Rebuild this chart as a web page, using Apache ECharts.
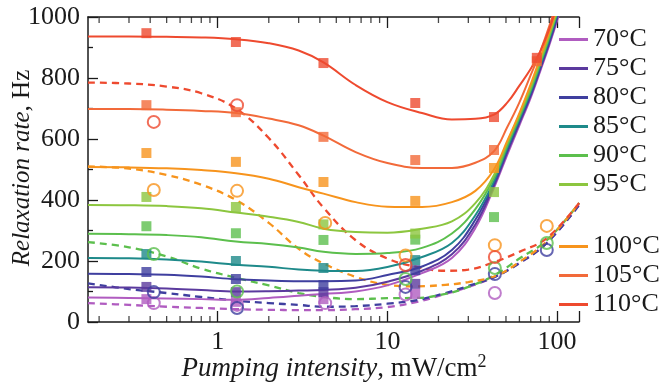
<!DOCTYPE html>
<html>
<head>
<meta charset="utf-8">
<script src="https://cdn.jsdelivr.net/npm/echarts@6/dist/echarts.min.js"></script>
<style>
  html, body { margin: 0; padding: 0; background: #fff; }
  #chart { width: 659px; height: 389px; }
</style>
</head>
<body>
<div id="chart"></div>
<script>
// temperatures and colours
const temps = ["70°C", "75°C", "80°C", "85°C", "90°C", "95°C", "100°C", "105°C", "110°C"];
const colors = ["#b05cc0", "#5b3a9e", "#3f3f9f", "#1e8a8a", "#5cbf4d", "#8cc63f", "#f7941d", "#f26a3a", "#ee4a2f"];

// solid fit curves (pumping intensity, mW/cm2)
const fitX = [0.172, 0.3, 0.5, 0.8, 1.28, 2, 3, 4.2, 6.5, 10, 16, 24, 33, 42.5, 51, 60, 70, 80, 90, 100, 110];
const fit70 = [80, 79, 77, 75, 73, 79, 86, 92, 100, 120, 160, 210, 308, 440, 550, 645, 736, 826, 908, 988, 1070];
const fit75 = [114, 113, 110, 105, 100, 101, 103, 105, 112, 132, 168, 222, 320, 447, 558, 652, 742, 832, 914, 994, 1075];
const fit80 = [158, 157, 155, 149, 140, 136, 134, 134, 136, 154, 182, 236, 335, 455, 565, 658, 748, 838, 920, 1000, 1080];
const fit85 = [210, 209, 205, 198, 188, 181, 172, 168, 167, 180, 213, 259, 350, 462, 572, 665, 755, 845, 928, 1008, 1090];
const fit90 = [289, 288, 285, 278, 264, 256, 244, 230, 223, 226, 243, 290, 370, 472, 580, 672, 762, 852, 935, 1015, 1095];
const fit95 = [384, 383, 380, 373, 359, 345, 328, 306, 295, 293, 306, 330, 390, 482, 590, 680, 770, 860, 940, 1020, 1100];
const fit100 = [508, 507, 504, 498, 488, 470, 442, 421, 393, 378, 377, 393, 430, 500, 595, 685, 780, 870, 950, 1030, 1110];
const fit105 = [698, 698, 696, 692, 685, 667, 645, 611, 557, 521, 505, 505, 522, 560, 640, 720, 810, 890, 970, 1050, 1130];
const fit110 = [936, 936, 935, 933, 927, 914, 890, 851, 777, 721, 685, 664, 666, 680, 720, 775, 830, 890, 960, 1040, 1120];

// dashed curves
const dashX = [0.172, 0.3, 0.5, 0.8, 1.28, 2, 3, 4.2, 6.5, 10, 15, 22, 30, 43, 60, 87, 135];
const dash70 = [62, 56, 50, 46, 42, 40, 39, 39, 42, 49, 66, 92, 115, 148, 193, 259, 384];
const dash80 = [127, 108, 95, 82, 70, 62, 56, 50, 52, 60, 72, 95, 118, 148, 193, 259, 384];
const dash90 = [262, 245, 215, 175, 145, 120, 95, 82, 75, 78, 79, 92, 115, 154, 208, 268, 390];
const dash100 = [510, 503, 482, 450, 400, 325, 240, 192, 148, 122, 117, 122, 131, 150, 197, 265, 390];
const dash110 = [785, 782, 772, 750, 700, 603, 482, 375, 268, 208, 180, 168, 172, 197, 230, 275, 390];

// filled squares
const sqX = [0.38, 1.28, 4.2, 14.6, 42.5, 76];
const sq70 = [75, 66, 75, 92];
const sq75 = [115, 98, 98, 125];
const sq80 = [164, 141, 121, 170];
const sq85 = [223, 200, 177, 203];
const sq90 = [314, 291, 269, 270, 344];
const sq95 = [410, 377, 320, 290, 426];
const sq100 = [554, 525, 459, 397, 505];
const sq105 = [711, 688, 607, 531, 564, 855];
const sq110 = [947, 918, 849, 718, 672, 866];

// open circles
const circX = [0.42, 1.3, 4.3, 12.8, 43, 87];
const circ70 = [62, 56, 62, 90, 95, null];
const circ80 = [98, 46, null, 115, 157, 236];
const circ90 = [223, 100, null, 141, 177, 259];
const circ100 = [433, 430, 325, 218, 252, 315];
const circ110 = [656, 711, null, 187, 213, null];

// x axis range and ticks (mW/cm2)
const xMin = 0.172, xMax = 134.7;
const majorTickX = [1, 10, 100];
const minorTickX = [0.2, 0.3, 0.4, 0.5, 0.6, 0.7, 0.8, 0.9, 2, 3, 4, 5, 6, 7, 8, 9, 20, 30, 40, 50, 60, 70, 80, 90];

const fits = [fit70, fit75, fit80, fit85, fit90, fit95, fit100, fit105, fit110];
const squares = [sq70, sq75, sq80, sq85, sq90, sq95, sq100, sq105, sq110];
const dashes = { 0: dash70, 2: dash80, 4: dash90, 6: dash100, 8: dash110 };
const circles = { 0: circ70, 2: circ80, 4: circ90, 6: circ100, 8: circ110 };

// x is plotted on a log10 value axis
const lg = Math.log10;
const pairs = (xs, ys) => xs.map((x, i) => [lg(x), ys[i]]).filter(p => p[1] != null && p[1] !== undefined);

const FONT = "Liberation Serif";
const ink = "#1a1a1a";
const FS = 26;

let myChart = echarts.init(document.getElementById("chart"));
var series = [];

// dashed fits first (underneath)
for (const k in dashes) {
  series.push({
    name: "dash" + k,
    type: "line",
    data: pairs(dashX, dashes[k]),
    smooth: 0.4,
    symbol: "none",
    clip: true,
    lineStyle: { color: colors[k], width: 2.3, type: [7, 5] },
    z: 2
  });
}
for (let i = 0; i < temps.length; i++) {
  series.push({
    name: temps[i],
    type: "line",
    data: pairs(fitX, fits[i]),
    smooth: 0.4,
    symbol: "none",
    clip: true,
    color: colors[i],
    lineStyle: { color: colors[i], width: 2 },
    z: 3
  });
}
for (let i = 0; i < temps.length; i++) {
  series.push({
    name: "sq" + i,
    type: "scatter",
    data: pairs(sqX, squares[i]),
    symbol: "rect",
    symbolSize: 10,
    itemStyle: { color: colors[i] },
    z: 4
  });
}
for (const k in circles) {
  series.push({
    name: "circ" + k,
    type: "scatter",
    data: pairs(circX, circles[k]),
    symbol: "circle",
    symbolSize: 12,
    itemStyle: { color: "rgba(0,0,0,0)", borderColor: colors[k], borderWidth: 2 },
    z: 5
  });
}
// minor ticks of the bottom and top log axes
series.push({
  name: "minorBottom",
  type: "scatter",
  data: minorTickX.map(v => [lg(v), 0]),
  symbol: "rect",
  symbolSize: [1.3, 6],
  symbolOffset: [0, -3],
  itemStyle: { color: ink },
  silent: true,
  clip: false,
  z: 6
});
series.push({
  name: "minorTop",
  type: "scatter",
  data: minorTickX.map(v => [lg(v), 1000]),
  symbol: "rect",
  symbolSize: [1.3, 6],
  symbolOffset: [0, 3],
  itemStyle: { color: ink },
  silent: true,
  clip: false,
  z: 6
});

const legendBase = {
  orient: "vertical",
  left: 554,
  itemGap: 0,
  itemWidth: 29,
  itemHeight: 3,
  icon: "rect",
  selectedMode: false,
  textStyle: { fontFamily: FONT, fontSize: FS, color: ink, lineHeight: 29 }
};

const tickVals = majorTickX.map(lg).concat([lg(xMax)]);
const xAxisBase = {
  type: "value",
  min: lg(xMin),
  max: lg(xMax),
  axisLine: { onZero: false, lineStyle: { color: ink, width: 1.5 } },
  axisTick: { inside: true, length: 11, customValues: tickVals, lineStyle: { color: ink, width: 1.3 } },
  splitLine: { show: false }
};

const options = {
  animation: false,
  grid: { left: 88, right: 80, top: 17, bottom: 67, containLabel: false, outerBoundsMode: "none" },
  legend: [
    Object.assign({ data: temps.slice(0, 6), top: 20 }, legendBase),
    Object.assign({ data: temps.slice(6), top: 227 }, legendBase)
  ],
  xAxis: [
    Object.assign({}, xAxisBase, {
      position: "bottom",
      axisLabel: {
        fontFamily: FONT, fontSize: FS, color: ink, margin: 7,
        customValues: majorTickX.map(lg),
        formatter: v => String(Math.round(Math.pow(10, v)))
      }
    }),
    Object.assign({}, xAxisBase, {
      position: "top",
      axisLabel: { show: false }
    })
  ],
  yAxis: {
    type: "value",
    min: 0,
    max: 1000,
    interval: 200,
    axisLine: { show: true, onZero: false, lineStyle: { color: ink, width: 1.5 } },
    axisTick: { show: true, inside: true, length: 10, lineStyle: { color: ink, width: 1.3 } },
    minorTick: { show: true, splitNumber: 2, length: 5, lineStyle: { color: ink, width: 1.3 } },
    axisLabel: { fontFamily: FONT, fontSize: FS, color: ink, margin: 8, formatter: v => String(v) },
    splitLine: { show: false }
  },
  // axis titles
  graphic: [
    {
      type: "text",
      x: 334,
      y: 369,
      style: {
        text: "{i|Pumping intensity}{n|, mW/cm}{s|2}",
        align: "center",
        verticalAlign: "middle",
        rich: {
          i: { fontFamily: FONT, fontSize: 27, fontStyle: "italic", fill: ink },
          n: { fontFamily: FONT, fontSize: 27, fill: ink },
          s: { fontFamily: FONT, fontSize: 18, fill: ink, padding: [0, 0, 13, 0] }
        }
      }
    },
    {
      type: "text",
      x: 22,
      y: 168,
      rotation: Math.PI / 2,
      style: {
        text: "{i|Relaxation rate}{n|, Hz}",
        align: "center",
        verticalAlign: "middle",
        rich: {
          i: { fontFamily: FONT, fontSize: 25, fontStyle: "italic", fill: ink },
          n: { fontFamily: FONT, fontSize: 25, fill: ink }
        }
      }
    }
  ],
  series: series
};
if (options && typeof options === "object") myChart.setOption(options);
</script>
</body>
</html>
